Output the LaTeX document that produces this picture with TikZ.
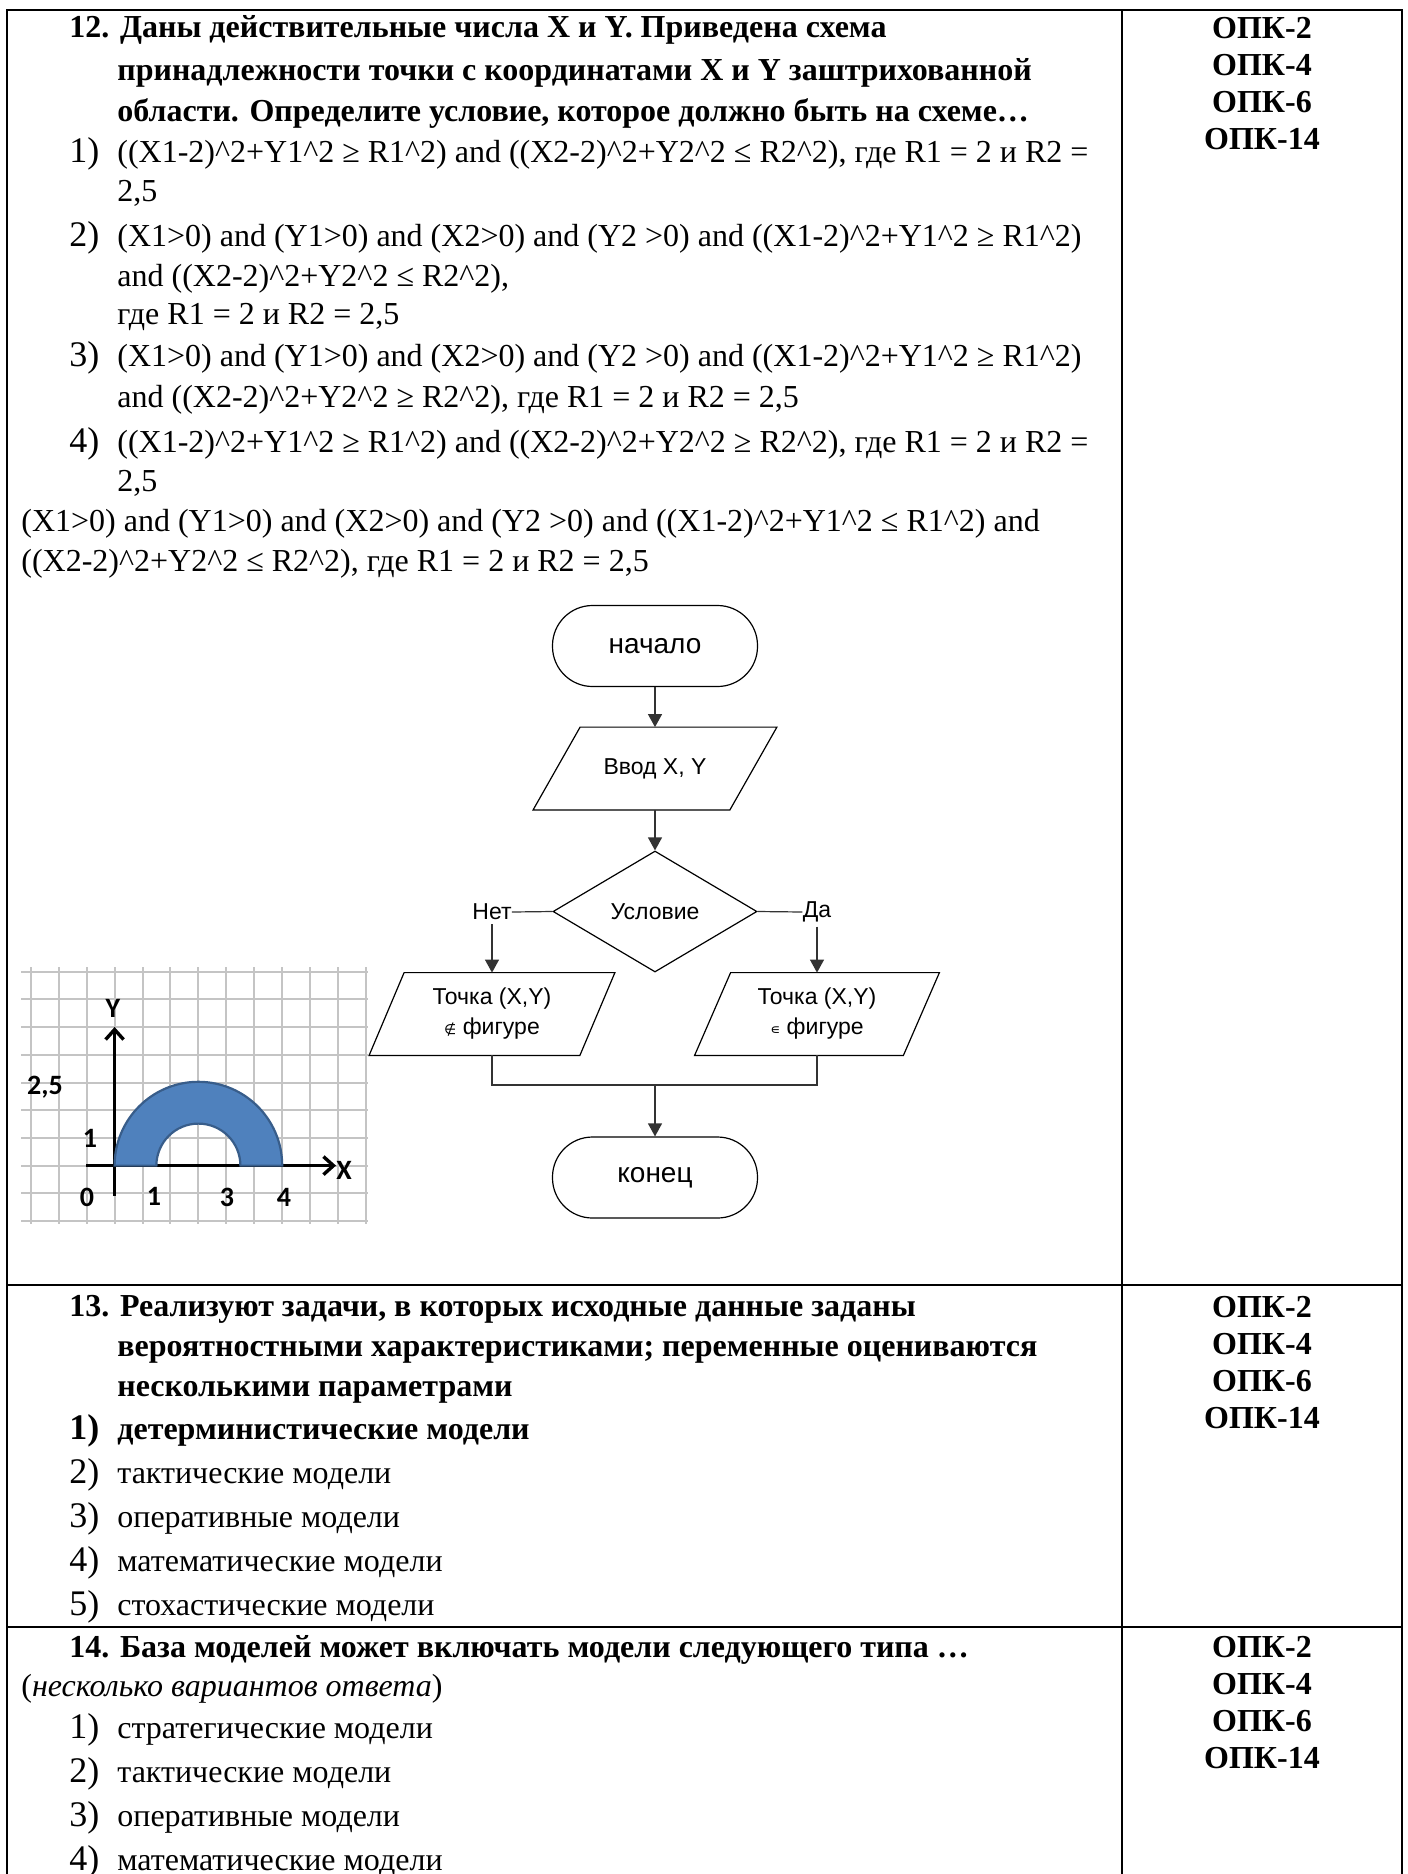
\documentclass[tikz,border=0pt]{standalone}
\usepackage{fontspec}
\setmainfont{Liberation Serif}
\newfontfamily\arialf{Liberation Sans}
\newfontfamily\calib{Carlito}
\newfontfamily\dejav{DejaVu Sans}
\usetikzlibrary{shapes.geometric,arrows.meta,calc}
\newcommand\hc{\textasciicircum}
\definecolor{gridc}{RGB}{196,196,196}
\definecolor{annfill}{RGB}{79,129,189}
\definecolor{anndraw}{RGB}{56,93,138}
\tikzset{
  txt/.style={anchor=base west, inner sep=0pt, font=\fontsize{16}{19}\selectfont},
  txtb/.style={anchor=base west, inner sep=0pt, font=\fontsize{16}{19}\selectfont\bfseries},
  num/.style={anchor=base west, inner sep=0pt, font=\fontsize{18}{21}\selectfont},
  numb/.style={anchor=base west, inner sep=0pt, font=\fontsize{18}{21}\selectfont\bfseries},
  opk/.style={anchor=base, inner sep=0pt, font=\fontsize{16}{19}\selectfont\bfseries},
  tline/.style={line width=1.2pt},
  term/.style={draw, line width=0.6pt, rounded corners=20pt, minimum width=102.5pt, minimum height=40.5pt, font=\arialf\fontsize{14}{16}\selectfont},
  pbox/.style={inner sep=0pt, minimum height=41pt, align=center, font=\arialf\fontsize{11.5}{15}\selectfont},
  pl/.style={line width=0.6pt},
  dia/.style={draw, diamond, line width=0.6pt, inner sep=0pt, minimum width=102pt, minimum height=60.5pt, font=\arialf\fontsize{11.5}{14}\selectfont},
  lbl/.style={inner xsep=0pt, inner ysep=2pt, font=\arialf\fontsize{11.5}{14}\selectfont},
  arr/.style={line width=0.6pt, draw=black!80, -{Triangle[length=6.5pt,width=7pt]}},
  fl/.style={line width=0.6pt, draw=black!80},
  gridl/.style={draw=gridc, line width=1pt},
  axis/.style={line width=1.7pt, -{Straight Barb[length=5pt,width=9pt,line width=1.7pt]}},
  glab/.style={inner sep=0pt, font=\calib\bfseries\fontsize{14}{16}\selectfont},
}
\begin{document}
\begin{tikzpicture}[x=0.5pt,y=-0.5pt]
\useasboundingbox (0,0) rectangle (1408,1874);
% table
\draw[tline] (7,1874) -- (7,10) -- (1402,10) -- (1402,1874);
\draw[tline] (1122,10) -- (1122,1874);
\draw[tline] (7,1285) -- (1402,1285);
\draw[tline] (7,1627) -- (1402,1627);

% ---------- row 12 ----------
\node[txtb] (q12a) at (69,37) {12. Даны действительные числа X и Y. Приведена схема};
\node[txtb] (q12b) at (117,80) {принадлежности точки с координатами X и Y заштрихованной};
\node[txtb] (q12c) at (117,121) {области. Определите условие, которое должно быть на схеме…};
\node[num] (n1) at (69,162) {1)};
\node[txt] (a1a) at (117,162) {((X1-2)\hc2+Y1\hc2 ≥ R1\hc2) and ((X2-2)\hc2+Y2\hc2 ≤ R2\hc2), где R1 = 2 и R2 =};
\node[txt] (a1b) at (117,201) {2,5};
\node[num] (n2) at (69,246) {2)};
\node[txt] (a2a) at (117,246) {(X1>0) and (Y1>0) and (X2>0) and (Y2 >0) and ((X1-2)\hc2+Y1\hc2 ≥ R1\hc2)};
\node[txt] (a2b) at (117,286) {and ((X2-2)\hc2+Y2\hc2 ≤ R2\hc2),};
\node[txt] (a2c) at (117,324) {где R1 = 2 и R2 = 2,5};
\node[num] (n3) at (69,366) {3)};
\node[txt] (a3a) at (117,366) {(X1>0) and (Y1>0) and (X2>0) and (Y2 >0) and ((X1-2)\hc2+Y1\hc2 ≥ R1\hc2)};
\node[txt] (a3b) at (117,407) {and ((X2-2)\hc2+Y2\hc2 ≥ R2\hc2), где R1 = 2 и R2 = 2,5};
\node[num] (n4) at (69,452) {4)};
\node[txt] (a4a) at (117,452) {((X1-2)\hc2+Y1\hc2 ≥ R1\hc2) and ((X2-2)\hc2+Y2\hc2 ≥ R2\hc2), где R1 = 2 и R2 =};
\node[txt] (a4b) at (117,491) {2,5};
\node[txt] (a5a) at (21,531) {(X1>0) and (Y1>0) and (X2>0) and (Y2 >0) and ((X1-2)\hc2+Y1\hc2 ≤ R1\hc2) and};
\node[txt] (a5b) at (21,571) {((X2-2)\hc2+Y2\hc2 ≤ R2\hc2), где R1 = 2 и R2 = 2,5};

\node[opk] (o12a) at (1262,38) {ОПК-2};
\node[opk] (o12b) at (1262,75) {ОПК-4};
\node[opk] (o12c) at (1262,112) {ОПК-6};
\node[opk] (o12d) at (1262,149) {ОПК-14};

% ---------- graph ----------
\foreach \i in {0,...,12} \draw[gridl] ({30.8+27.93*\i},967) -- ({30.8+27.93*\i},1224);
\foreach \j in {0,...,9} \draw[gridl] (21,{971.7+27.7*\j}) -- (368,{971.7+27.7*\j});
\coordinate (yb) at (114.6,1196);
\coordinate (yt) at (114.6,1027);
\coordinate (xl) at (86,1165.6);
\coordinate (xr) at (336,1165.6);
\draw[axis] (yb) -- (yt);
\draw[axis] (xl) -- (xr);
\draw[fill=annfill, draw=anndraw, line width=1.1pt]
  (114.6,1165.6) arc[start angle=180, end angle=0, radius=41.9pt]
  -- (240.4,1165.6) arc[start angle=0, end angle=180, radius=21pt] -- cycle;
\node[glab] (gy) at (113,1008) {Y};
\node[glab] (gx) at (344,1170) {X};
\node[glab] (g25) at (45,1087) {2,5};
\node[glab] (g1y) at (90,1138) {1};
\node[glab] (g0) at (87,1197) {0};
\node[glab] (g1) at (154,1196) {1};
\node[glab] (g3) at (227,1197) {3};
\node[glab] (g4) at (284,1197) {4};

% ---------- flowchart ----------
\node[term] (start) at (655,646) {начало};
\node[pbox, minimum width=98pt] (inp) at (655,768.5) {Ввод X, Y};
\draw[pl] ($(inp.north west)+(23.5,0)$) -- ($(inp.north east)+(23.5,0)$) -- ($(inp.south east)+(-23.5,0)$) -- ($(inp.south west)+(-23.5,0)$) -- cycle;
\node[dia] (cond) at (655,911.5) {Условие};
\node[lbl] (net) at (492,912) {Нет};
\node[lbl] (da) at (817,912) {Да};
\node[pbox, minimum width=105pt] (nobox) at (492,1014) {Точка (X,Y)\\{\dejav\fontsize{7}{8}\selectfont ∉} фигуре};
\draw[pl] ($(nobox.north west)+(17.5,0)$) -- ($(nobox.north east)+(17.5,0)$) -- ($(nobox.south east)+(-17.5,0)$) -- ($(nobox.south west)+(-17.5,0)$) -- cycle;
\node[pbox, minimum width=104pt] (yesbox) at (817,1014) {Точка (X,Y)\\{\dejav\fontsize{7}{8}\selectfont ∊} фигуре};
\draw[pl] ($(yesbox.north west)+(18,0)$) -- ($(yesbox.north east)+(18,0)$) -- ($(yesbox.south east)+(-18,0)$) -- ($(yesbox.south west)+(-18,0)$) -- cycle;
\node[term] (end) at (655,1177.5) {конец};
\coordinate (join) at (655,1085);

\draw[arr] (start.south) -- (inp.north);
\draw[arr] (inp.south) -- (cond.north);
\draw[fl] (cond.west) -- (net.east);
\draw[fl] (cond.east) -- (da.west);
\draw[arr] (net.south) -- (nobox.north);
\draw[arr] (da.south) -- (yesbox.north);
\draw[fl] (nobox.south) |- (join) -| (yesbox.south);
\draw[arr] (join) -- (end.north);

% ---------- row 13 ----------
\node[txtb] (q13a) at (69,1316) {13. Реализуют задачи, в которых исходные данные заданы};
\node[txtb] (q13b) at (117,1356) {вероятностными характеристиками; переменные оцениваются};
\node[txtb] (q13c) at (117,1396) {несколькими параметрами};
\node[numb] (m1) at (69,1439) {1)};
\node[txtb] (b1) at (117,1439) {детерминистические модели};
\node[num] (m2) at (69,1483) {2)};
\node[txt] (b2) at (117,1483) {тактические модели};
\node[num] (m3) at (69,1527) {3)};
\node[txt] (b3) at (117,1527) {оперативные модели};
\node[num] (m4) at (69,1571) {4)};
\node[txt] (b4) at (117,1571) {математические модели};
\node[num] (m5) at (69,1615) {5)};
\node[txt] (b5) at (117,1615) {стохастические модели};
\node[opk] (o13a) at (1262,1317) {ОПК-2};
\node[opk] (o13b) at (1262,1354) {ОПК-4};
\node[opk] (o13c) at (1262,1391) {ОПК-6};
\node[opk] (o13d) at (1262,1428) {ОПК-14};

% ---------- row 14 ----------
\node[txtb] (q14a) at (69,1657) {14. База моделей может включать модели следующего типа …};
\node[txt] (q14b) at (21,1696) {(\textit{несколько вариантов ответа})};
\node[num] (k1) at (69,1738) {1)};
\node[txt] (c1) at (117,1738) {стратегические модели};
\node[num] (k2) at (69,1782) {2)};
\node[txt] (c2) at (117,1782) {тактические модели};
\node[num] (k3) at (69,1826) {3)};
\node[txt] (c3) at (117,1826) {оперативные модели};
\node[num] (k4) at (69,1870) {4)};
\node[txt] (c4) at (117,1870) {математические модели};
\node[opk] (o14a) at (1262,1657) {ОПК-2};
\node[opk] (o14b) at (1262,1694) {ОПК-4};
\node[opk] (o14c) at (1262,1731) {ОПК-6};
\node[opk] (o14d) at (1262,1768) {ОПК-14};
\end{tikzpicture}
\end{document}
